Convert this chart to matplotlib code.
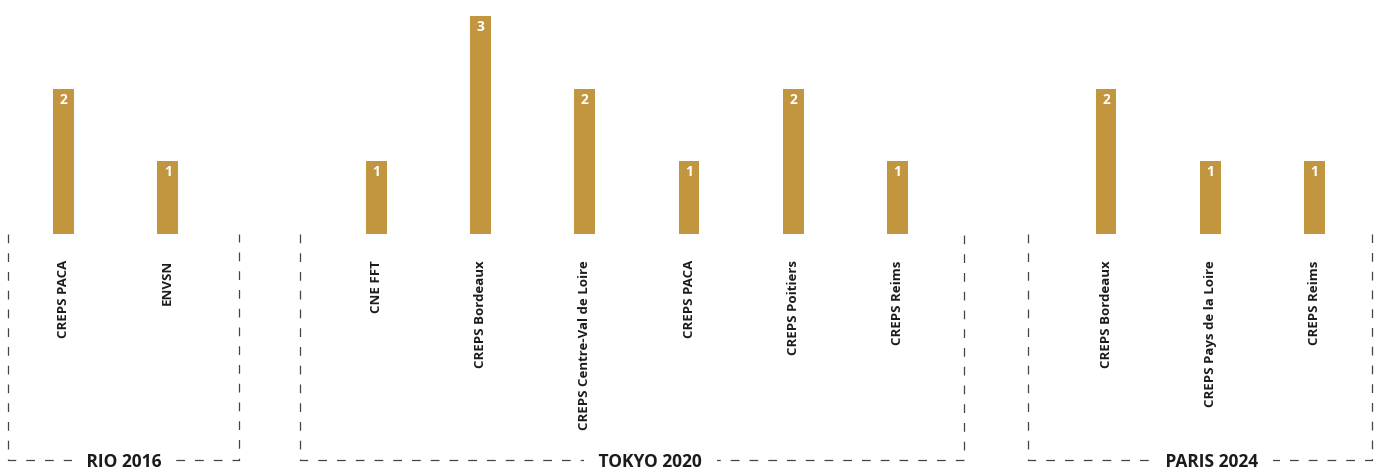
import matplotlib
matplotlib.use("Agg")
import matplotlib.pyplot as plt

# data
games = ["RIO 2016", "TOKYO 2020", "PARIS 2024"]
rio_labels = ["CREPS PACA", "ENVSN"]
rio_values = [2, 1]
tokyo_labels = ["CNE FFT", "CREPS Bordeaux", "CREPS Centre-Val de Loire",
                "CREPS PACA", "CREPS Poitiers", "CREPS Reims"]
tokyo_values = [1, 3, 2, 1, 2, 1]
paris_labels = ["CREPS Bordeaux", "CREPS Pays de la Loire", "CREPS Reims"]
paris_values = [2, 1, 1]

GOLD = "#C2963F"
DARK = "#1E1A1B"
FONT = "Open Sans"

fig = plt.figure(figsize=(13.74, 4.71), dpi=100)
ax = fig.add_axes([0, 0, 1, 1])
ax.set_xlim(-0.609, 12.57)
ax.set_ylim(-3.264, 3.223)
ax.axis("off")

groups = [rio_labels, tokyo_labels, paris_labels]
values = [rio_values, tokyo_values, paris_values]
# box extents (left, right) and title x, in slot units
boxes = [(-0.532, 1.679, 0.58), (2.269, 8.638, 5.63), (9.252, 12.552, 11.01)]
box_bottom = -3.113

start = 0
for name, labs, vals, (bl, br, tx) in zip(games, groups, values, boxes):
    xs = list(range(start, start + len(labs)))
    ax.bar(xs, vals, width=0.2, color=GOLD, linewidth=0)
    for x, v, lab in zip(xs, vals, labs):
        ax.text(x, v - 0.055, str(v), ha="center", va="top", color="white",
                fontsize=10, fontweight="bold", family=FONT)
        ax.text(x, -0.36, lab, rotation=90, ha="center", va="top", color=DARK,
                fontsize=9.5, fontweight="bold", family=FONT)
    ax.plot([bl, bl, br, br], [0, box_bottom, box_bottom, 0], color="#444444",
            lw=0.9, ls=(0, (7, 8)), solid_capstyle="butt")
    ax.text(tx, -3.205, "   " + name + "   ", ha="center", va="baseline", color=DARK,
            fontsize=12.5, fontweight="bold", family=FONT,
            bbox=dict(facecolor="white", edgecolor="none", pad=1))
    start = xs[-1] + 2

fig.savefig("out.png", dpi=100, facecolor="white")
